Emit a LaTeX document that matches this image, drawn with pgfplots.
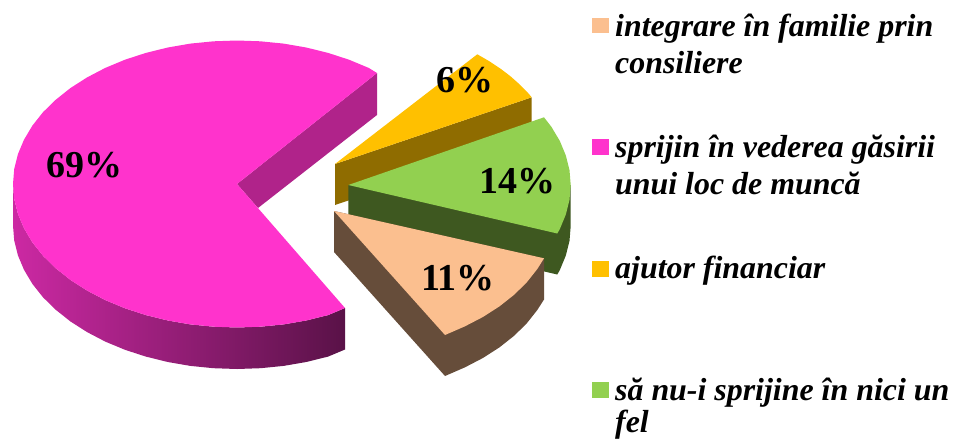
\documentclass[border=0pt]{standalone}
\usepackage{pgfplots}
\usepackage{fontspec}
\setmainfont{Liberation Serif}
\pgfplotsset{compat=1.18}
\definecolor{Peach}{HTML}{FBBF8F}
\definecolor{PeachDark}{HTML}{664D3A}
\definecolor{Mag}{HTML}{FF33CC}
\definecolor{MagCut}{HTML}{B0238A}
\definecolor{Gold}{HTML}{FFC000}
\definecolor{GoldDark}{HTML}{8F6C00}
\definecolor{Leaf}{HTML}{92D050}
\definecolor{LeafDark}{HTML}{3E5820}
\newcommand{\pct}[2]{\node[anchor=base,font=\fontsize{38}{38}\selectfont\bfseries,inner sep=0pt] at (axis cs:#1) {#2};}
\newcommand{\leg}[2]{\node[anchor=base west,font=\fontsize{31.9}{32}\selectfont\bfseries\itshape,inner sep=0pt] at (axis cs:#1) {#2};}
\begin{document}
\begin{tikzpicture}
\begin{axis}[at={(0,0)},anchor=south west,scale only axis,width=953pt,height=440pt,xmin=0,xmax=953,ymin=0,ymax=440,y dir=reverse,hide axis]
% magenta slice, 69%
\addplot[draw=none,left color=Mag!80!black,middle color=Mag!62!black,right color=Mag!35!black] coordinates {(13,184) (14.2,199) (17.9,213.8) (24,228.3) (32.4,242.4) (43,255.8) (55.8,268.3) (70.5,280) (87.1,290.6) (105.3,300.1) (125,308.3) (145.9,315.1) (167.8,320.5) (190.4,324.4) (213.6,326.7) (237,327.5) (260.4,326.7) (283.6,324.4) (306.2,320.5) (328.1,315.1) (345,308) (345,349.5) (328.1,356.6) (306.2,362) (283.6,365.9) (260.4,368.2) (237,369) (213.6,368.2) (190.4,365.9) (167.8,362) (145.9,356.6) (125,349.8) (105.3,341.6) (87.1,332.1) (70.5,321.5) (55.8,309.8) (43,297.3) (32.4,283.9) (24,269.8) (17.9,255.3) (14.2,240.5) (13,225.5)} --cycle;
\addplot[draw=none,fill=MagCut] coordinates {(237,184) (377,73) (377,115) (258,208)} --cycle;
\addplot[draw=none,fill=Mag] coordinates {(237,184) (377,73) (368.7,67.9) (349,59.7) (328.1,52.9) (306.2,47.5) (283.6,43.6) (260.4,41.3) (237,40.5) (213.6,41.3) (190.4,43.6) (167.8,47.5) (145.9,52.9) (125,59.7) (105.3,67.9) (87.1,77.4) (70.5,88) (55.8,99.7) (43,112.2) (32.4,125.6) (24,139.7) (17.9,154.2) (14.2,169) (13,184) (14.2,199) (17.9,213.8) (24,228.3) (32.4,242.4) (43,255.8) (55.8,268.3) (70.5,280) (87.1,290.6) (105.3,300.1) (125,308.3) (145.9,315.1) (167.8,320.5) (190.4,324.4) (213.6,326.7) (237,327.5) (260.4,326.7) (283.6,324.4) (306.2,320.5) (328.1,315.1) (345,308)} --cycle;
% gold slice, 6%
\addplot[draw=none,fill=GoldDark] coordinates {(335,164) (531.7,97.3) (531.7,138.3) (335,205)} --cycle;
\addplot[draw=none,fill=Gold] coordinates {(335,164) (477.3,54.3) (489.6,61.4) (500.4,68.6) (510.4,76.2) (519.5,84.3) (527.8,92.7) (531.7,97.3)} --cycle;
% green slice, 14%
\addplot[draw=none,fill=LeafDark] coordinates {(348.3,185) (570.7,185) (570.7,226) (569.5,240.9) (565.8,255.6) (559.8,270.1) (557.3,274.5) (348.3,226)} --cycle;
\addplot[draw=none,fill=Leaf] coordinates {(348.3,185) (544,117.3) (551.5,127) (559.8,140.9) (565.8,155.4) (569.5,170.1) (570.7,185) (569.5,199.9) (565.8,214.6) (559.8,229.1) (557.3,233.5)} --cycle;
% peach slice, 11%
\addplot[draw=none,fill=PeachDark] coordinates {(334,211) (544,258.3) (544,299.5) (537.3,310) (526.8,323.3) (514.1,335.8) (499.4,347.4) (482.9,358) (464.8,367.4) (445,376) (334,252)} --cycle;
\addplot[draw=none,fill=Peach] coordinates {(334,211) (544,258.3) (537.3,269) (526.8,282.3) (514.1,294.8) (499.4,306.4) (482.9,317) (464.8,326.4) (445,335)} --cycle;
% legend swatches
\addplot[draw=none,fill=Peach] coordinates {(592,17.5) (608.5,17.5) (608.5,33) (592,33)} --cycle;
\addplot[draw=none,fill=Mag] coordinates {(592,139) (608.5,139) (608.5,155) (592,155)} --cycle;
\addplot[draw=none,fill=Gold] coordinates {(592,261) (608.5,261) (608.5,277) (592,277)} --cycle;
\addplot[draw=none,fill=Leaf] coordinates {(592,382) (608.5,382) (608.5,398) (592,398)} --cycle;
\pct{84.5,177.3}{69\%}
\pct{465,92.7}{6\%}
\pct{517.3,193}{14\%}
\pct{458,290.7}{11\%}
\leg{615,36.7}{integrare în familie prin}
\leg{615,73}{consiliere}
\leg{615,157}{sprijin în vederea găsirii}
\leg{615,194}{unui loc de muncă}
\leg{615,278}{ajutor financiar}
\leg{615,400}{să nu-i sprijine în nici un}
\leg{615,432.5}{fel}
\end{axis}
\useasboundingbox (0,0) rectangle (953pt,440pt);
\end{tikzpicture}
\end{document}
